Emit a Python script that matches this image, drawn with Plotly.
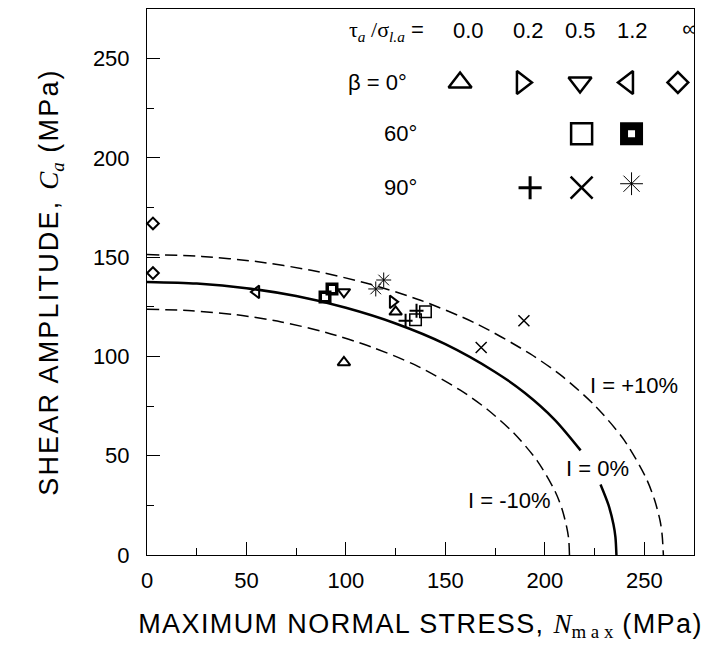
import plotly.graph_objects as go

# ---------------- data ----------------
# Criterion curves  I = 0 %, +10 %, -10 %
i0_x_a = [0, 25, 50, 75, 100, 125, 150, 175, 190, 205, 218]
i0_y_a = [137.5, 136.7, 134.4, 130.4, 124.5, 116.6, 106.2, 92.2, 81.6, 68.1, 52.7]
i0_x_b = [228, 232, 234.5, 235.5, 236]
i0_y_b = [35.5, 25.2, 15.5, 9.0, 0]

ip10_x = [0, 27.5, 55, 82.5, 110, 137.5, 165, 192.5, 209, 225.5, 239.8, 250.8, 255.2, 258, 259, 259.6]
ip10_y = [151.3, 150.4, 147.8, 143.4, 137.0, 128.3, 116.8, 101.4, 89.8, 74.9, 58.0, 39.0, 27.7, 17.0, 9.9, 0]

im10_x = [0, 22.5, 45, 67.5, 90, 112.5, 135, 157.5, 171, 184.5, 196.2, 205.2, 208.8, 211, 212, 212.4]
im10_y = [123.8, 123.0, 121.0, 117.4, 112.1, 104.9, 95.6, 83.0, 73.4, 61.3, 47.4, 32.0, 22.7, 14.0, 8.1, 0]

# Experimental points  (N_max, C_a)
b0_r00_x = [125, 99];     b0_r00_y = [122.5, 97]
b0_r02_x = [123.5];       b0_r02_y = [127.5]
b0_r05_x = [99];          b0_r05_y = [132.5]
b0_r12_x = [55];          b0_r12_y = [132.5]
b0_rinf_x = [3, 3];       b0_rinf_y = [167, 142]
b60_r05_x = [135, 140];   b60_r05_y = [118.5, 122.5]
b60_r12_x = [89.5, 93];   b60_r12_y = [130, 134]
b90_r02_x = [130, 135.5]; b90_r02_y = [118, 123]
b90_r05_x = [168, 189.5]; b90_r05_y = [104.5, 118]
b90_r12_x = [115, 119];   b90_r12_y = [134, 138.5]

ratio_labels = ["0.0", "0.2", "0.5", "1.2"]
beta_labels = ["β = 0°", "60°", "90°"]
curve_labels = ["I = +10%", "I = 0%", "I = -10%"]
x_ticks = [0, 50, 100, 150, 200, 250]
y_ticks = [0, 50, 100, 150, 200, 250]

# ---------------- figure ----------------
SANS = "Liberation Sans, Arial, sans-serif"
SERIF = "Liberation Serif, Times New Roman, serif"
fig = go.Figure()

def curve(x, y, dash, width):
    fig.add_trace(go.Scatter(x=x, y=y, mode="lines", line=dict(color="black", width=width, dash=dash, shape="spline", smoothing=0.8),
                             showlegend=False, hoverinfo="skip"))

curve(i0_x_a, i0_y_a, "solid", 2.5)
curve(i0_x_b, i0_y_b, "solid", 2.5)
curve(ip10_x, ip10_y, "12px,6px", 1.5)
curve(im10_x, im10_y, "12px,6px", 1.5)

def pts(x, y, symbol, size, lw):
    fig.add_trace(go.Scatter(x=x, y=y, mode="markers", cliponaxis=False,
                             marker=dict(symbol=symbol, size=size, color="black",
                                         line=dict(color="black", width=lw)),
                             showlegend=False))

# data markers
pts(b0_r00_x, b0_r00_y, "triangle-up-open", 11, 2)
pts(b0_r02_x, b0_r02_y, "triangle-right-open", 11, 2)
pts(b0_r05_x, b0_r05_y, "triangle-down-open", 11, 2)
pts(b0_r12_x, b0_r12_y, "triangle-left-open", 11, 2)
pts(b0_rinf_x, b0_rinf_y, "diamond-open", 9, 2)
pts(b60_r05_x, b60_r05_y, "square-open", 11.5, 1.5)
pts(b60_r12_x, b60_r12_y, "square-open", 9.5, 3.5)
pts(b90_r02_x, b90_r02_y, "cross-thin-open", 10, 2)
pts(b90_r05_x, b90_r05_y, "x-thin-open", 11, 1.5)
pts(b90_r12_x, b90_r12_y, "asterisk-open", 12.5, 1)

# key symbols (positions in data units)
row_y = [238, 212.2, 185]
col_x = [157.4, 188.5, 217.7, 241.8, 266.9]
pts([col_x[0]], [row_y[0]], "triangle-up-open", 20, 2.5)
pts([col_x[1]], [row_y[0]], "triangle-right-open", 20, 2.5)
pts([col_x[2]], [row_y[0]], "triangle-down-open", 20, 2.5)
pts([col_x[3]], [row_y[0]], "triangle-left-open", 20, 2.5)
pts([col_x[4]], [row_y[0]], "diamond-open", 16, 2.5)
pts([218.5], [row_y[1]], "square-open", 21, 2.5)
pts([243.6], [row_y[1]], "square-open", 15, 8)
pts([192.6], [row_y[2]], "cross-thin-open", 16.5, 3)
pts([218.5], [row_y[2]], "x-thin-open", 22, 2.5)
pts([243.6], [row_y[2] + 2], "asterisk-open", 19, 1)

# infinity header (clipped at the frame like the original)
fig.add_trace(go.Scatter(x=[273], y=[264], mode="text", text=["∞"], cliponaxis=True,
                         textfont=dict(family=SANS, size=22, color="black"),
                         textposition="middle center", showlegend=False, hoverinfo="skip"))

ann = []
def text(x, y, s, size=22, xanchor="center"):
    ann.append(dict(x=x, y=y, xref="x", yref="y", text=s, showarrow=False, xanchor=xanchor, yanchor="middle",
                    font=dict(family=SANS, size=size, color="black")))

text(120.4, 264, f"<span style='font-family:{SERIF}'>τ<sub><i>a</i></sub> /σ<sub><i>l.a</i></sub></span> =")
for lab, xx in zip(ratio_labels, [161.4, 191.6, 217.7, 244.3]):
    text(xx, 264, lab)
text(115.9, row_y[0], beta_labels[0])
text(127.2, row_y[1], beta_labels[1])
text(127.2, row_y[2], beta_labels[2])
text(244.8, 85.5, curve_labels[0])
text(226.5, 43.7, curve_labels[1])
text(182, 27.7, curve_labels[2])
fig.update_layout(annotations=ann)

axis_common = dict(range=[0, 275], showgrid=False, zeroline=False, showline=True, linecolor="black", linewidth=1,
                   mirror=True, ticks="inside", ticklen=13, tickwidth=1, tickcolor="black",
                   minor=dict(dtick=25, ticks="inside", ticklen=7, tickcolor="black", showgrid=False),
                   tickfont=dict(family=SANS, size=22, color="black"))

fig.update_xaxes(**axis_common, tickvals=x_ticks, ticklabelstandoff=6,
                 title=dict(text=f"<span style='letter-spacing:1.4px'>MAXIMUM NORMAL STRESS, </span><span style='font-family:{SERIF}'><i>N</i><sub>m a x</sub></span><span style='letter-spacing:1.4px'> (MPa)</span>",
                            font=dict(family=SANS, size=27, color="black"), standoff=21))
fig.update_yaxes(**axis_common, tickvals=y_ticks, ticklabelstandoff=12,
                 title=dict(text=f"<span style='letter-spacing:2.2px'>SHEAR AMPLITUDE, </span><span style='font-family:{SERIF}'><i>C</i><sub><i>a</i></sub></span><span style='letter-spacing:2.2px'> (MPa)</span>",
                            font=dict(family=SANS, size=27, color="black"), standoff=26))

fig.update_layout(width=709, height=655, margin=dict(l=139, r=23, t=1, b=108),
                  paper_bgcolor="white", plot_bgcolor="white", showlegend=False)

fig.write_html("out.html")
